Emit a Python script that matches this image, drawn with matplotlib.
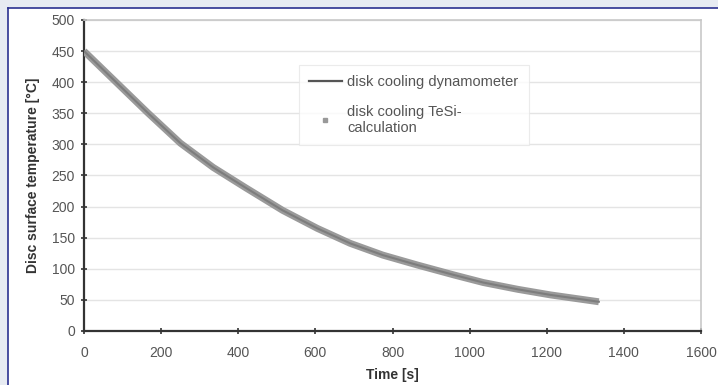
import matplotlib
matplotlib.use("Agg")
import matplotlib.pyplot as plt
from matplotlib.lines import Line2D
from matplotlib.patches import Rectangle

plt.rcParams['font.family'] = ['Liberation Sans', 'DejaVu Sans']

# values
time_s = [0, 75, 165, 250, 335, 420, 515, 605, 690, 775, 865, 960, 1035, 1125, 1210, 1335]
temp_dyno = [450, 405, 351, 302, 263, 230, 194, 165, 141, 122, 106, 90, 78, 67, 58, 47]
temp_tesi = [450, 405, 351, 302, 263, 230, 194, 165, 141, 122, 106, 90, 78, 67, 58, 47]

x_ticks = [0, 200, 400, 600, 800, 1000, 1200, 1400, 1600]
y_ticks = [0, 50, 100, 150, 200, 250, 300, 350, 400, 450, 500]

fig = plt.figure(figsize=(7.18, 3.85), dpi=100)
fig.patch.set_facecolor('#e7ebf2')

# white panel with blue frame on top / left
fig.patches.append(Rectangle((8 / 718, 0), 1, 1 - 8 / 385, transform=fig.transFigure,
                             facecolor='white', edgecolor='none', zorder=-5))
fig.add_artist(Line2D([8 / 718, 8 / 718], [0, 1 - 8 / 385], transform=fig.transFigure,
                      color='#2b3190', lw=1.2))
fig.add_artist(Line2D([8 / 718, 1], [1 - 8 / 385, 1 - 8 / 385], transform=fig.transFigure,
                      color='#2b3190', lw=1.2))

ax = fig.add_axes([84 / 718, 1 - 331 / 385, (701 - 84) / 718, (331 - 20) / 385])
ax.set_facecolor('white')

# calculation (thick gray band) and measurement line
ax.plot(time_s, temp_tesi, color='#9a9a9a', lw=5, solid_capstyle='butt', zorder=3)
ax.plot(time_s, temp_dyno, color='#7d7d7d', lw=1.5, zorder=4)

ax.set_xlim(0, 1600)
ax.set_ylim(0, 500)
ax.set_xticks(x_ticks)
ax.set_yticks(y_ticks)
ax.tick_params(direction='inout', length=5, width=1.2, colors='#333333',
               labelsize=10, labelcolor='#555555')
ax.tick_params(axis='x', pad=8)
ax.tick_params(axis='y', pad=4)
ax.grid(axis='y', color='#e4e4e4', lw=1)
ax.set_axisbelow(True)

for side in ['left', 'bottom']:
    ax.spines[side].set_color('#333333')
    ax.spines[side].set_linewidth(1.6)
for side in ['right', 'top']:
    ax.spines[side].set_color('#c8c8c8')
    ax.spines[side].set_linewidth(1.2)

ax.set_xlabel('Time [s]', fontsize=10, fontweight='bold', color='#333333', labelpad=6)
ax.set_ylabel('Disc surface temperature [°C]', fontsize=10, fontweight='bold',
              color='#333333', labelpad=8)

handles = [Line2D([], [], color='#555555', lw=1.6),
           Line2D([], [], color='#999999', lw=0, marker='s', markersize=3)]
labels = ['disk cooling dynamometer', 'disk cooling TeSi-\ncalculation']
leg = ax.legend(handles, labels, loc='upper left', bbox_to_anchor=(0.337, 0.88),
                fontsize=10.5, frameon=True, fancybox=False, handlelength=2.2,
                handletextpad=0.4, labelspacing=1.1, borderpad=0.7, labelcolor='#555555')
leg.get_frame().set_edgecolor('#e6e6e6')
leg.get_frame().set_linewidth(0.8)

fig.savefig('out.png', dpi=100, facecolor=fig.get_facecolor())
